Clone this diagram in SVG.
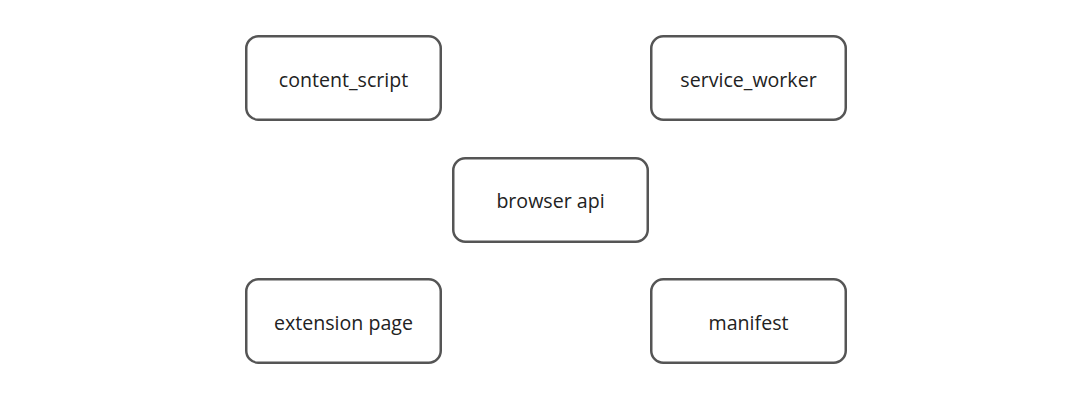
<svg xmlns="http://www.w3.org/2000/svg" width="1089" height="402" viewBox="0 0 1089 402">
<style>
.box{fill:#fff;stroke:#555;stroke-width:2.5}
.lbl{font-family:"Open Sans","Noto Sans",sans-serif;font-size:19.6px;fill:#222;text-anchor:middle;dominant-baseline:central}
</style>
<rect width="1089" height="402" fill="#fff"/>
<g id="connectors"></g>
<g id="content_script"><rect class="box" x="246.25" y="36.25" width="194.5" height="83.5" rx="12"/><text class="lbl" x="343.5" y="79">content_script</text></g>
<g id="service_worker"><rect class="box" x="651.25" y="36.25" width="194.5" height="83.5" rx="12"/><text class="lbl" x="748.5" y="79">service_worker</text></g>
<g id="browser_api"><rect class="box" x="453.25" y="158.25" width="194.5" height="83.5" rx="12"/><text class="lbl" x="550.5" y="200">browser api</text></g>
<g id="extension_page"><rect class="box" x="246.25" y="279.25" width="194.5" height="83.5" rx="12"/><text class="lbl" x="343.5" y="322">extension page</text></g>
<g id="manifest"><rect class="box" x="651.25" y="279.25" width="194.5" height="83.5" rx="12"/><text class="lbl" x="748.5" y="322">manifest</text></g>
</svg>
